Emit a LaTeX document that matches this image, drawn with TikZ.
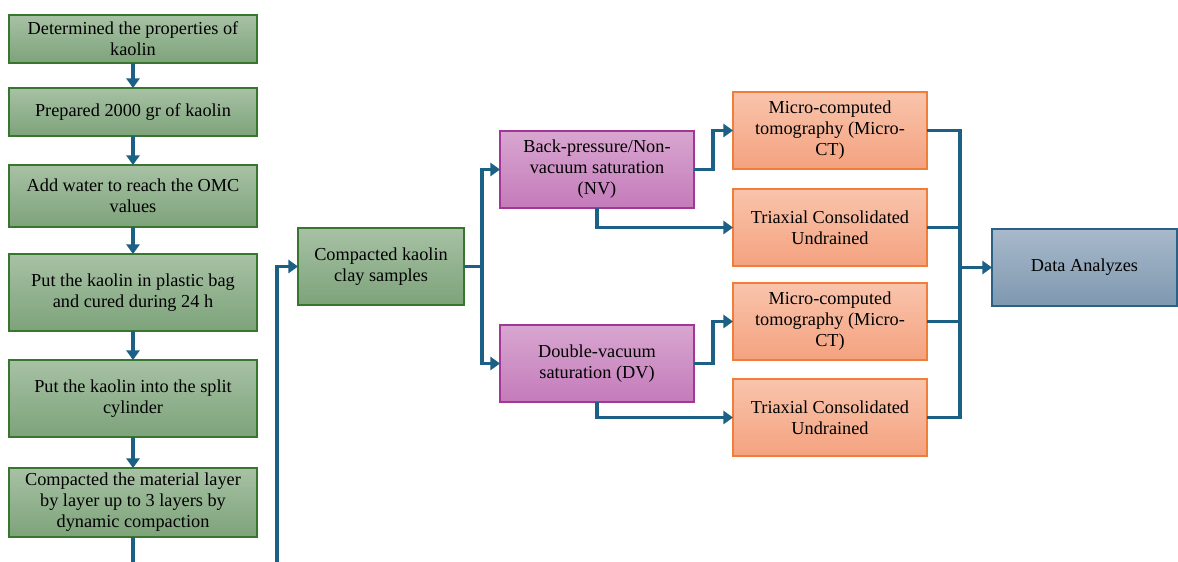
\documentclass[tikz,border=0pt]{standalone}
\usepackage{fontspec}
\setmainfont{Liberation Serif}
\usepackage{tikz}
\usetikzlibrary{positioning,arrows.meta}

\definecolor{flowblue}{HTML}{1C6185}
\definecolor{grtop}{HTML}{A7C1A4}
\definecolor{grbot}{HTML}{7DA37A}
\definecolor{grline}{HTML}{38762F}
\definecolor{pktop}{HTML}{D8A6D0}
\definecolor{pkbot}{HTML}{C47BBA}
\definecolor{pkline}{HTML}{A23797}
\definecolor{ortop}{HTML}{F9C4AC}
\definecolor{orbot}{HTML}{F4A27F}
\definecolor{orline}{HTML}{EE7E3A}
\definecolor{bltop}{HTML}{A8B9CA}
\definecolor{blbot}{HTML}{7E98B0}
\definecolor{blline}{HTML}{2A6184}

\begin{document}
\begin{tikzpicture}[>={Triangle[length=5.5pt,width=7.5pt]},align=center,
    font=\fontsize{10.4}{12}\selectfont,
    box/.style={rectangle,line width=0.9pt,inner sep=2pt,outer sep=0pt,minimum height=1.54cm},
    greenbox/.style={box,draw=grline,top color=grtop,bottom color=grbot,minimum width=4.96cm},
    pinkbox/.style={box,draw=pkline,top color=pktop,bottom color=pkbot,minimum width=3.88cm},
    orangebox/.style={box,draw=orline,top color=ortop,bottom color=orbot,minimum width=3.88cm},
    bluebox/.style={box,draw=blline,top color=bltop,bottom color=blbot,minimum width=3.7cm},
    line/.style={draw=flowblue,line width=1.9pt},
    flow/.style={line,->}]
        \useasboundingbox (0,0) rectangle (23.56,-11.22);

        \node[greenbox,minimum height=0.96cm] (b1) at (2.66,-0.78) {Determined the properties of\\kaolin};
        \node[greenbox,minimum height=0.96cm] (b2) [below=0.5cm of b1] {Prepared 2000 gr of kaolin};
        \node[greenbox,minimum height=1.24cm] (b3) [below=0.58cm of b2] {Add water to reach the OMC\\values};
        \node[greenbox] (b4) [below=0.54cm of b3] {Put the kaolin in plastic bag\\and cured during 24 h};
        \node[greenbox] (b5) [below=0.58cm of b4] {Put the kaolin into the split\\cylinder};
        \node[greenbox,minimum height=1.38cm] (b6) [below=0.62cm of b5] {Compacted the material layer\\by layer up to 3 layers by\\dynamic compaction};

        \node[greenbox,minimum width=3.32cm] (ckc) at (7.62,-5.33) {Compacted kaolin\\clay samples};
        \node[pinkbox] (nv) at (11.94,-3.39) {Back-pressure/Non-\\vacuum saturation\\(NV)};
        \node[pinkbox] (dv) at (11.94,-7.27) {Double-vacuum\\saturation (DV)};

        \node[orangebox] (mct1) at (16.6,-2.61) {Micro-computed\\tomography (Micro-\\CT)};
        \node[orangebox] (tri1) [below=0.4cm of mct1] {Triaxial Consolidated\\Undrained};
        \node[orangebox] (mct2) [below=0.34cm of tri1] {Micro-computed\\tomography (Micro-\\CT)};
        \node[orangebox] (tri2) [below=0.38cm of mct2] {Triaxial Consolidated\\Undrained};

        \node[bluebox] (da) at (21.69,-5.35) {Data Analyzes};

        \coordinate (low) at (5.54,-11.8);
        \coordinate (bus) at (19.2,-5.35);

        \path[flow] (b1) -- (b2);
        \path[flow] (b2) -- (b3);
        \path[flow] (b3) -- (b4);
        \path[flow] (b4) -- (b5);
        \path[flow] (b5) -- (b6);
        \path[flow] (b6.south) |- (low) |- (ckc.west);

        \path[flow] (ckc.east) -- ++(0.36,0) |- (nv.west);
        \path[flow] (ckc.east) -- ++(0.36,0) |- (dv.west);
        \path[flow] (nv.east) -- ++(0.38,0) |- (mct1.west);
        \path[flow] (nv.south) |- (tri1.west);
        \path[flow] (dv.east) -- ++(0.38,0) |- (mct2.west);
        \path[flow] (dv.south) |- (tri2.west);

        \path[line] (mct1.east) -| (bus);
        \path[line] (tri1.east) -| (bus);
        \path[line] (mct2.east) -| (bus);
        \path[line] (tri2.east) -| (bus);
        \path[flow] (bus) -- (da);
\end{tikzpicture}
\end{document}
